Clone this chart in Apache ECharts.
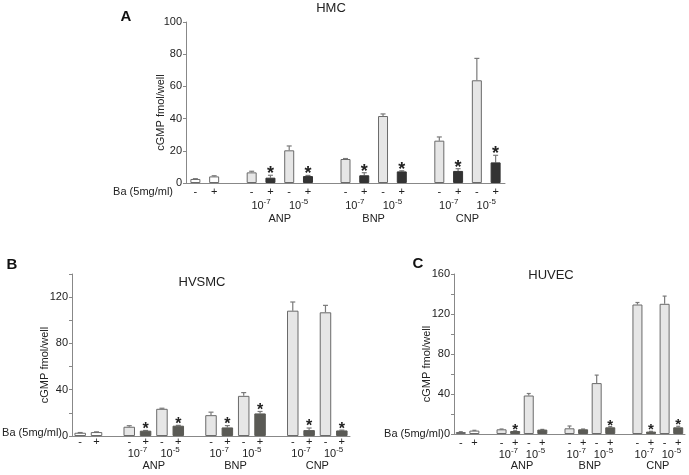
<!DOCTYPE html>
<html><head><meta charset="utf-8">
<script src="https://cdn.jsdelivr.net/npm/echarts@6/dist/echarts.min.js"></script>
<style>html,body{margin:0;padding:0;background:#fff}#c{width:689px;height:475px}</style>
</head><body><div id="c"></div>
<script>
// ---- data ----
const signs = ['-','+','','-','+','-','+','','-','+','-','+','','-','+','-','+'];
const kinds = ['c','c','','m','p','m','p','','m','p','m','p','','m','p','m','p'];
const groups = ['ANP','BNP','CNP'];
const concs = ['-7','-5'];
const baLabel = 'Ba (5mg/ml)';
const yName = 'cGMP fmol/well';

const hmcMean = [2.5, 4.1, null, 6.6, 3.3, 20.3, 4.3, null, 14.9, 4.8, 41.6, 7.2, null, 26.3, 7.5, 63.8, 12.8];
const hmcSE   = [0.2, 0.4, null, 0.7, 1.5, 2.7, 0.4, null, 0.3, 1.6, 1.3, 0.4, null, 2.3, 1.4, 13.6, 4.4];
const hmcStar = [0,0,0, 0,1,0,1, 0, 0,1,0,1, 0, 0,1,0,1];

const hvsmcMean = [2.8, 3.4, null, 8.0, 4.6, 23.5, 8.9, null, 18.0, 7.4, 34.7, 19.5, null, 108.3, 5.1, 106.9, 4.8];
const hvsmcSE   = [0.2, 0.2, null, 0.9, 0.2, 0.5, 0.3, null, 2.6, 1.6, 2.8, 1.7, null, 7.5, 1.8, 6.0, 0.3];
const hvsmcStar = [0,0,0, 0,1,0,1, 0, 0,1,0,1, 0, 0,1,0,1];

const huvecMean = [2.0, 3.4, null, 4.7, 3.0, 38.5, 4.4, null, 5.7, 4.7, 50.9, 6.7, null, 129.5, 2.4, 130.2, 6.7];
const huvecSE   = [0.3, 0.3, null, 0.3, 0.3, 2.0, 0.2, null, 2.3, 0.3, 8.0, 0.7, null, 2.0, 0.3, 7.7, 1.0];
const huvecStar = [0,0,0, 0,1,0,0, 0, 0,0,0,1, 0, 0,1,0,1];

const hmcTicks = [0,20,40,60,80,100];
const hvsmcTicks = [0,40,80,120];
const huvecTicks = [0,40,80,120,160];

// ---- layout / style ----
const FONT = 'Liberation Sans, Arial, Helvetica, sans-serif';
const panels = [
  {title:'HMC', letter:'A', mean:hmcMean, se:hmcSE, star:hmcStar, ticks:hmcTicks, yMax:100,
   grid:{left:186, right:184, top:22, bottom:292}, barW:10, dark:'#333333', starSize:18, cap:2.5,
   titlePos:[331,8], letterPos:[126,17], baPos:[173,192], signMargin:3, concMargin:15, grpMargin:30, yNameGap:20},
  {title:'HVSMC', letter:'B', mean:hvsmcMean, se:hvsmcSE, star:hvsmcStar, ticks:hvsmcTicks, yMax:140,
   grid:{left:72, right:339, top:274, bottom:39}, barW:11.5, dark:'#5a5a55', starSize:16, cap:2.5,
   titlePos:[202,282], letterPos:[12,265], baPos:[62,433], signMargin:0, concMargin:10, grpMargin:24, yNameGap:22},
  {title:'HUVEC', letter:'C', mean:huvecMean, se:huvecSE, star:huvecStar, ticks:huvecTicks, yMax:160,
   grid:{left:454, right:4, top:274, bottom:41}, barW:10, dark:'#5a5a55', starSize:15, cap:2,
   titlePos:[551,275], letterPos:[418,264], baPos:[444,434], signMargin:3, concMargin:13, grpMargin:26, yNameGap:22}
];

// 35-slot label rows (boundaryGap false): slot i center -> k = 2i+1
const concRow = new Array(35).fill('');
const grpRow = new Array(35).fill('');
groups.forEach((g, gi) => {
  const start = 3 + gi * 5;            // first bar slot of group
  grpRow[2 * start + 4] = g;           // center of 4 slots
  concs.forEach((c, ci) => {
    concRow[2 * (start + 2 * ci) + 2] = '10{s|' + c + '}';
  });
});

const textColor = '#222';
const grids = [], xAxes = [], yAxes = [], series = [], graphics = [];

panels.forEach((p, pi) => {
  grids.push(p.grid);
  const base = pi * 3;
  xAxes.push({
    type:'category', gridIndex:pi, position:'bottom', offset:0, data:signs, boundaryGap:true,
    axisLine:{lineStyle:{color:'#888', width:1}}, axisTick:{show:false},
    axisLabel:{interval:0, margin:p.signMargin, color:textColor, fontFamily:FONT, fontSize:11, lineHeight:11}
  });
  xAxes.push({
    type:'category', gridIndex:pi, position:'bottom', offset:0, data:concRow, boundaryGap:false,
    axisLine:{show:false}, axisTick:{show:false}, splitLine:{show:false},
    axisLabel:{interval:0, margin:p.concMargin, color:textColor, fontFamily:FONT, fontSize:11, hideOverlap:false,
      rich:{s:{fontSize:8, padding:[0,0,8,0], fontFamily:FONT, color:textColor}}}
  });
  xAxes.push({
    type:'category', gridIndex:pi, position:'bottom', offset:0, data:grpRow, boundaryGap:false,
    axisLine:{show:false}, axisTick:{show:false}, splitLine:{show:false},
    axisLabel:{interval:0, margin:p.grpMargin, color:textColor, fontFamily:FONT, fontSize:11, hideOverlap:false}
  });
  const tickSet = new Set(p.ticks);
  yAxes.push({
    type:'value', gridIndex:pi, min:0, max:p.yMax, interval:20,
    axisLine:{show:true, lineStyle:{color:'#888'}}, axisTick:{show:true, length:3, lineStyle:{color:'#888'}},
    splitLine:{show:false},
    axisLabel:{margin:4, color:textColor, fontFamily:FONT, fontSize:11, formatter:v => tickSet.has(v) ? String(v) : ''},
    name:yName, nameLocation:'middle', nameGap:p.yNameGap, nameMoveOverlap:false,
    nameTextStyle:{color:textColor, fontFamily:FONT, fontSize:11, padding:[0,20,0,0]}
  });

  const barData = p.mean.map((v, i) => {
    if (v === null) return '-';
    const k = kinds[i];
    const fill = k === 'c' ? '#ffffff' : (k === 'm' ? '#e6e6e6' : p.dark);
    const border = k === 'p' ? p.dark : '#6a6a6a';
    return {value:v, itemStyle:{color:fill, borderColor:border, borderWidth:1}};
  });
  series.push({
    type:'bar', xAxisIndex:base, yAxisIndex:pi, data:barData, barWidth:p.barW, silent:true, z:3
  });
  const errData = [];
  p.mean.forEach((v, i) => { if (v !== null) errData.push([i, v, p.se[i], p.star[i]]); });
  series.push({
    type:'custom', xAxisIndex:base, yAxisIndex:pi, data:errData, z:2, silent:true,
    renderItem:(params, api) => {
      const i = api.value(0), m = api.value(1), s = api.value(2), st = api.value(3);
      const b = api.coord([i, m]);
      const t = api.coord([i, m + s]);
      const ch = [];
      if (s > 0) {
        ch.push({type:'line', shape:{x1:b[0], y1:b[1], x2:t[0], y2:t[1]}, style:{stroke:'#7a7a7a', lineWidth:1.2}});
        ch.push({type:'line', shape:{x1:t[0]-p.cap, y1:t[1], x2:t[0]+p.cap, y2:t[1]}, style:{stroke:'#7a7a7a', lineWidth:1.2}});
      }
      if (st) {
        ch.push({type:'text', z2:10, style:{text:'*', x:t[0], y:t[1] - 1, align:'center', verticalAlign:'middle',
          font:'bold ' + p.starSize + 'px ' + FONT, fill:'#222'}});
      }
      return {type:'group', children:ch};
    }
  });
  graphics.push({x:p.titlePos[0], y:p.titlePos[1], style:{text:p.title, font:'13px ' + FONT, fill:textColor, align:'center', verticalAlign:'middle'}});
  graphics.push({x:p.letterPos[0], y:p.letterPos[1], style:{text:p.letter, font:'bold 15px ' + FONT, fill:'#111', align:'center', verticalAlign:'middle'}});
  graphics.push({x:p.baPos[0], y:p.baPos[1], style:{text:baLabel, font:'11px ' + FONT, fill:textColor, align:'right', verticalAlign:'middle'}});
});

const chart = echarts.init(document.getElementById('c'), null, {renderer:'canvas'});
chart.setOption({
  animation:false, backgroundColor:'#fff',
  grid:grids, xAxis:xAxes, yAxis:yAxes, series:series,
  graphic: graphics.map(g => ({type:'text', x:g.x, y:g.y, style:g.style, z:100}))
});
</script></body></html>
